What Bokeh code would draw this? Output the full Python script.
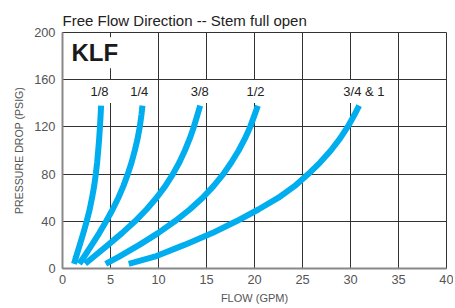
from bokeh.plotting import figure
from bokeh.models import Label, FixedTicker
from bokeh.embed import file_html
from bokeh.resources import INLINE

# ---- data ----
psi = [4, 10, 20, 30, 40, 50, 60, 70, 80, 90, 100, 110, 120, 130, 138]
flow_1_8 = [1.2, 1.42, 1.8, 2.17, 2.52, 2.83, 3.08, 3.3, 3.47, 3.61, 3.72, 3.82, 3.9, 3.97, 4.02]
flow_1_4 = [1.75, 2.25, 3.05, 3.83, 4.55, 5.22, 5.82, 6.35, 6.8, 7.2, 7.53, 7.82, 8.05, 8.22, 8.33]
flow_3_8 = [2.36, 3.25, 4.75, 6.2, 7.55, 8.75, 9.8, 10.72, 11.5, 12.18, 12.75, 13.25, 13.68, 14.05, 14.34]
flow_1_2 = [4.5, 5.9, 8.0, 9.95, 11.7, 13.25, 14.6, 15.75, 16.75, 17.6, 18.35, 19.0, 19.55, 20.0, 20.35]
flow_3_4 = [6.9, 9.6, 12.7, 15.6, 18.1, 20.4, 22.5, 24.2, 25.6, 26.85, 27.95, 28.9, 29.7, 30.4, 30.9]

size_labels = ["1/8", "1/4", "3/8", "1/2", "3/4 & 1"]
label_x = [3.85, 8.0, 14.3, 20.1, 31.4]
label_y = 150

x_ticks = [0, 5, 10, 15, 20, 25, 30, 35, 40]
y_ticks = [0, 40, 80, 120, 160, 200]

BLUE = "#00aeef"
FONT = "Liberation Sans"

p = figure(width=453, height=306, x_range=(0, 40), y_range=(0, 200),
           output_backend="svg", toolbar_location=None,
           min_border_left=62, min_border_right=7, min_border_top=32,
           min_border_bottom=35)

p.title.text = "Free Flow Direction -- Stem full open"
p.title.text_font = FONT
p.title.text_font_size = "15px"
p.title.text_font_style = "normal"
p.title.text_color = "#222222"
p.title.align = "left"
p.title.standoff = 7

p.xaxis.ticker = FixedTicker(ticks=x_ticks)
p.yaxis.ticker = FixedTicker(ticks=y_ticks)
p.xgrid.ticker = FixedTicker(ticks=x_ticks)
p.ygrid.ticker = FixedTicker(ticks=y_ticks)
for g in (p.xgrid, p.ygrid):
    g.grid_line_color = "#333333"
    g.grid_line_width = 1
    g.grid_line_alpha = 1

for ax in (p.xaxis, p.yaxis):
    ax.major_tick_line_color = None
    ax.minor_tick_line_color = None
    ax.major_tick_in = 0
    ax.major_tick_out = 0
    ax.axis_line_color = "#888888"
    ax.axis_line_width = 2
    ax.major_label_text_font = FONT
    ax.major_label_text_font_size = "12.8px"
    ax.major_label_text_color = "#555555"
    ax.axis_label_text_font = FONT
    ax.axis_label_text_font_style = "normal"
    ax.axis_label_text_color = "#555555"

p.xaxis.axis_label = "FLOW (GPM)"
p.yaxis.axis_label = "PRESSURE DROP (PSIG)"
p.xaxis.axis_label_text_font_size = "11px"
p.yaxis.axis_label_text_font_size = "10.6px"
p.xaxis.major_label_standoff = 6
p.xaxis.axis_label_standoff = 5
p.yaxis.major_label_standoff = 7
p.yaxis.axis_label_standoff = 6

p.outline_line_color = "#333333"
p.outline_line_width = 1
p.outline_line_alpha = 1
p.background_fill_color = "white"
p.border_fill_color = "white"

for fx in [flow_1_8, flow_1_4, flow_3_8, flow_1_2, flow_3_4]:
    p.line(fx, psi, line_color=BLUE, line_width=6, line_cap="butt",
           line_join="round")

for txt, lx in zip(size_labels, label_x):
    p.add_layout(Label(x=lx, y=label_y, text=txt, text_align="center",
                       text_baseline="middle", text_font=FONT,
                       text_font_size="13px", text_color="#222222",
                       background_fill_color="white", padding=4))

p.add_layout(Label(x=0.72, y=196, text="KLF", text_align="left",
                   text_baseline="top", text_font=FONT,
                   text_font_size="24px", text_font_style="bold",
                   text_color="#1a1a1a", background_fill_color="white",
                   padding=2))

open("out.html", "w").write(file_html(p, INLINE))
